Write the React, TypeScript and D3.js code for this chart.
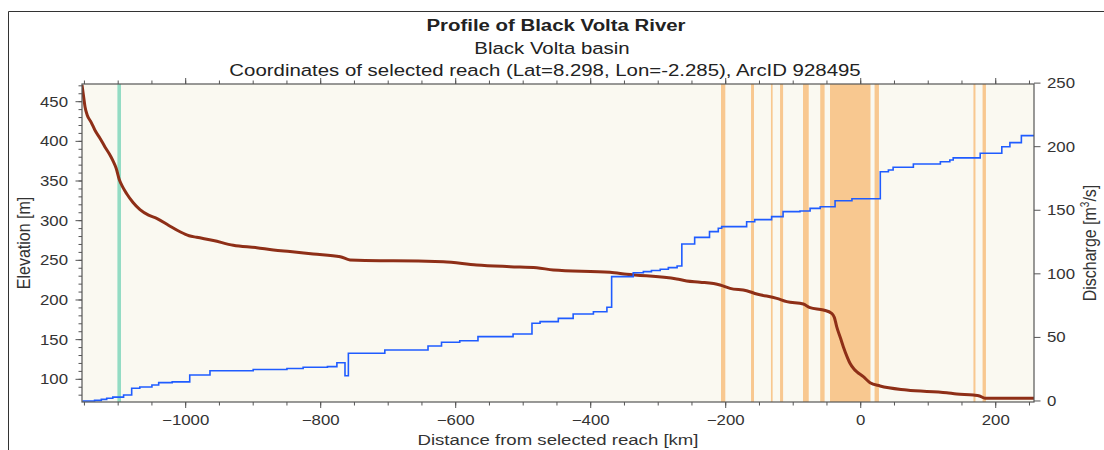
import React from "react";
import * as d3 from "d3";

// ---- data ----
const elevDist = [-1153.6,-1151,-1149,-1145.8,-1140,-1134.4,-1127,-1119.6,-1113,-1108,-1103,-1098.4,-1093,-1087.4,-1078,-1067.7,-1055,-1043,-1025,-1008.4,-995,-983.7,-959,-929.5,-894.8,-870,-845.5,-811,-771,-756.6,-712,-692.4,-618.4,-569,-519.6,-480,-455.4,-371.4,-346.7,-272.6,-257.8,-238,-208.4,-193.6,-169,-154,-124.4,-109.6,-85,-75,-55.4,-43,-39,-35.6,-30,-25.8,-20,-15.9,-10,-6,3.9,13.8,28.6,68,127.4,142.2,166.8,176,184.1,256.7];
const elevValues = [471,455,443,433,424,414,404,393,384,376,366,352,342,334,323,314,307,303,294,286,281,279,275,269,266,263,261,258,254.6,250.5,249.6,249.6,248.3,244.1,242,240.7,237.8,234.9,232.4,226.5,224,222.5,218.9,214.7,211.7,207.6,202.1,197.9,194.9,190.3,187.4,183.2,178,166.3,152,141.1,128,120.2,113,109.6,103.3,95.7,91.6,86.5,83.1,81.5,80.2,79,76,76];

const qDist = [-1153,-1135,-1125,-1117,-1108,-1092,-1080,-1068,-1050,-1040,-1020,-994,-964,-900,-850,-826,-790,-776,-764,-759,-705,-641,-621,-594,-567,-515,-487,-475,-448,-426,-396,-376,-369,-337,-322,-310,-297,-285,-272,-265,-246,-224,-211,-206,-169,-157,-132,-115,-90,-75,-60,-38,-13,29,41,48,78,118,132,137,177,209,221,238,257];
const qValues = [0,0.5,1.3,2.1,3.0,4.7,10.0,11.0,12.6,14.4,15.0,20.4,23.8,24.8,25.6,26.5,27.0,30.1,19.9,37.5,40.1,43.3,46.2,47.4,50.6,52.7,61.1,62.4,65.0,68.4,70.2,73.7,97.8,100.9,101.7,102.6,103.6,104.9,106.2,123.5,128.7,133.2,135.8,137.1,141.0,142.6,145.0,148.9,149.4,151.5,152.8,157.5,159.0,180.3,181.7,183.8,186.4,188.2,189.5,191.2,194.8,200.0,203.2,208.7,208.7];

const bandStart = [-207,-162.5,-133,-119.5,-85.5,-60,-45.5,20.5,167,180.5];
const bandEnd = [-200.6,-158.1,-130.5,-115,-77,-53.5,14.5,27,170,185.5];
const selectedMarker = [-1098.5];

const elevTicks = [100,150,200,250,300,350,400,450];
const qTicks = [0,50,100,150,200,250];
const distTicks = [-1000,-800,-600,-400,-200,0,200];

const titleLines = [
  "Profile of Black Volta River",
  "Black Volta basin",
  "Coordinates of selected reach (Lat=8.298, Lon=-2.285), ArcID 928495",
];

// ---- layout ----
const W = 1104, H = 450;
const L = 82, R = 1034, T = 84, B = 402;
const SX = 1.2;
const FONT = "'Liberation Sans', Arial, Helvetica, sans-serif";

function SText(props: any) {
  const { x, y, rotate, anchor = "middle", size = 14, weight = "normal", fill = "#333", children, dy } = props;
  return (
    <text
      transform={`translate(${x},${y}) scale(${SX},1)${rotate ? ` rotate(${rotate})` : ""}`}
      textAnchor={anchor}
      fontSize={size}
      fontWeight={weight}
      fill={fill}
      fontFamily={FONT}
      dy={dy}
    >
      {children}
    </text>
  );
}

export default function App() {
  const x = d3.scaleLinear().domain([-1153.6, 256.7]).range([L, R]);
  const yL = d3.scaleLinear().domain([71.4, 472.3]).range([B, T]);
  const yR = d3.scaleLinear().domain([-0.8, 249.3]).range([B, T]);
  const fmt = d3.format("d");

  const elevPath = d3
    .line<number>()
    .x((_, i) => x(elevDist[i]))
    .y((d) => yL(d))
    .curve(d3.curveMonotoneX)(elevValues) as string;

  const qPath = d3
    .line<number>()
    .x((_, i) => x(qDist[i]))
    .y((d) => yR(d))
    .curve(d3.curveStepAfter)(qValues) as string;

  const minorX = d3.range(-1150, 251, 50);
  const minorL = d3.range(80, 471, 10);
  const axisColor = "#555";

  return (
    <svg width={W} height={H} style={{ position: "absolute", left: 0, top: 0 }}>
      <rect x={0} y={0} width={W} height={H} fill="#fff" />
      {/* outer frame */}
      <line x1={8.5} y1={11.5} x2={W} y2={11.5} stroke="#333" strokeWidth={1} />
      <line x1={8.5} y1={11.5} x2={8.5} y2={H} stroke="#333" strokeWidth={1} />

      {/* titles */}
      <SText x={556} y={31} size={17} weight="bold" fill="#222">{titleLines[0]}</SText>
      <SText x={552} y={54} size={17} fill="#222">{titleLines[1]}</SText>
      <SText x={545} y={76} size={17} fill="#222">{titleLines[2]}</SText>

      <defs>
        <clipPath id="plotclip">
          <rect x={L} y={T} width={R - L} height={B - T} />
        </clipPath>
      </defs>

      <rect x={L} y={T} width={R - L} height={B - T} fill="#faf9f1" />
      <g clipPath="url(#plotclip)">
        {bandStart.map((s, i) => (
          <rect key={i} x={x(s)} y={T} width={x(bandEnd[i]) - x(s)} height={B - T} fill="#f8c890" />
        ))}
        {selectedMarker.map((m, i) => (
          <rect key={i} x={x(m) - 1.8} y={T} width={3.6} height={B - T} fill="#93dcc4" />
        ))}
        <path d={elevPath} fill="none" stroke="#8e2f17" strokeWidth={3} strokeLinejoin="round" />
        <path d={qPath} fill="none" stroke="#1f5cff" strokeWidth={1.6} />
      </g>

      {/* spines */}
      <rect x={L} y={T} width={R - L} height={B - T} fill="none" stroke={axisColor} strokeWidth={1.2} />

      {/* bottom & top ticks */}
      {minorX.map((v) => (
        <g key={"mx" + v}>
          <line x1={x(v)} x2={x(v)} y1={B} y2={B + 3.5} stroke={axisColor} />
          <line x1={x(v)} x2={x(v)} y1={T} y2={T - 3.5} stroke={axisColor} />
        </g>
      ))}
      {distTicks.map((v) => (
        <g key={"x" + v}>
          <line x1={x(v)} x2={x(v)} y1={B} y2={B + 6} stroke={axisColor} />
          <line x1={x(v)} x2={x(v)} y1={T} y2={T - 6} stroke={axisColor} />
          <SText x={x(v)} y={425} size={14}>{fmt(v)}</SText>
        </g>
      ))}
      <SText x={558} y={445} size={15.5}>Distance from selected reach [km]</SText>

      {/* left ticks */}
      {minorL.map((v) => (
        <line key={"ml" + v} x1={L} x2={L - 3.5} y1={yL(v)} y2={yL(v)} stroke={axisColor} />
      ))}
      {elevTicks.map((v) => (
        <g key={"l" + v}>
          <line x1={L} x2={L - 6.5} y1={yL(v)} y2={yL(v)} stroke={axisColor} />
          <SText x={68} y={yL(v)} dy="0.35em" anchor="end" size={14}>{fmt(v)}</SText>
        </g>
      ))}
      <SText x={30} y={243} rotate={-90} size={16}>Elevation [m]</SText>

      {/* right ticks */}
      {qTicks.map((v) => (
        <g key={"r" + v}>
          <line x1={R} x2={R + 6.5} y1={yR(v)} y2={yR(v)} stroke={axisColor} />
          <SText x={1047} y={yR(v)} dy="0.35em" anchor="start" size={14}>{fmt(v)}</SText>
        </g>
      ))}
      <text
        transform={`translate(1096,243) scale(${SX},1) rotate(-90)`}
        textAnchor="middle"
        fontSize={16}
        fill="#333"
        fontFamily={FONT}
      >
        Discharge [m
        <tspan fontSize={10} dy={-6}>3</tspan>
        <tspan dy={6}>/s]</tspan>
      </text>
    </svg>
  );
}
